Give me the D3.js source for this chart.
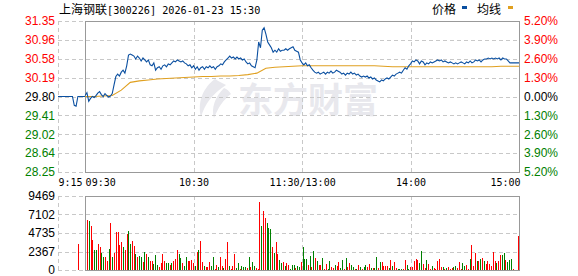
<!DOCTYPE html>
<html><head><meta charset="utf-8">
<script src="https://cdn.jsdelivr.net/npm/d3@7"></script>
<style>body{margin:0;background:#fff}svg{display:block}</style>
</head><body>
<svg id="c" width="578" height="276"></svg>
<script>
// ---------- data ----------
const titleName = "上海钢联";
const titleRest = "[300226] 2026-01-23 15:30";
const legendNames = ["价格", "均线"];
const preClose = 29.80;
const priceTicks = [31.35, 30.96, 30.58, 30.19, 29.80, 29.41, 29.02, 28.64, 28.25];
const pctTicks = ["5.20%", "3.90%", "2.60%", "1.30%", "0.00%", "1.30%", "2.60%", "3.90%", "5.20%"];
const volTicks = [9469, 7102, 4735, 2367, 0];
const volMax = 9469;
const timeLabels = ["9:15", "09:30", "10:30", "11:30/13:00", "14:00", "15:00"];
const timeLabelMinutes = [-15, 0, 60, 120, 180, 240];
// pre-market indicative price, minutes -15 (9:15) .. 0 (9:30)
const prePrices = [29.80,29.80,29.80,29.80,29.80,29.80,29.80,29.80,29.80,29.62,29.60,29.80,29.80,29.80,29.80,29.80];
const preVolume = 3327;
const preVolumeMinute = -4;
// trading minutes 0..240 (9:30 .. 11:30, 13:01 .. 15:00)
const prices = [
29.82,29.88,29.70,29.76,29.80,29.78,29.82,29.87,29.90,29.84,
29.80,29.86,29.82,29.79,29.81,29.86,30.04,30.21,30.26,30.22,
30.30,30.34,30.28,30.43,30.65,30.67,30.65,30.63,30.57,30.63,
30.59,30.53,30.59,30.55,30.51,30.55,30.45,30.43,30.49,30.34,
30.39,30.41,30.36,30.43,30.45,30.41,30.47,30.45,30.49,30.53,
30.51,30.55,30.53,30.51,30.53,30.49,30.47,30.43,30.45,30.39,
30.43,30.36,30.41,30.34,30.39,30.41,30.36,30.41,30.39,30.43,
30.39,30.41,30.36,30.41,30.43,30.47,30.45,30.51,30.55,30.59,
30.63,30.59,30.61,30.57,30.61,30.57,30.59,30.55,30.57,30.51,
30.47,30.49,30.43,30.41,30.39,30.55,30.92,30.80,31.16,31.21,
31.08,30.92,30.86,30.80,30.71,30.75,30.71,30.78,30.73,30.75,
30.75,30.78,30.75,30.78,30.80,30.82,30.75,30.73,30.71,30.55,
30.49,
30.45,30.49,30.43,30.45,30.39,30.34,30.30,30.28,30.30,30.26,
30.28,30.30,30.26,30.30,30.28,30.32,30.28,30.30,30.34,30.32,
30.30,30.26,30.28,30.24,30.28,30.26,30.30,30.26,30.28,30.24,
30.26,30.22,30.20,30.22,30.20,30.22,30.18,30.20,30.16,30.18,
30.14,30.12,30.10,30.14,30.12,30.16,30.18,30.16,30.20,30.24,
30.22,30.26,30.28,30.30,30.28,30.34,30.39,30.36,30.43,30.47,
30.53,30.51,30.55,30.53,30.47,30.53,30.51,30.45,30.49,30.47,
30.51,30.49,30.51,30.53,30.55,30.53,30.55,30.51,30.53,30.51,
30.49,30.51,30.49,30.47,30.49,30.47,30.49,30.51,30.49,30.47,
30.51,30.49,30.53,30.49,30.51,30.55,30.53,30.55,30.51,30.55,
30.57,30.57,30.59,30.57,30.59,30.57,30.59,30.57,30.59,30.55,
30.59,30.57,30.57,30.53,30.49,30.49,30.49,30.49,30.49,30.49];
const avgMinutes = [0,5,10,15,20,25,30,35,40,45,50,55,60,65,70,75,80,85,90,95,100,105,110,115,120,
  125,130,135,140,145,150,155,160,165,170,175,180,185,190,195,200,205,210,215,220,225,230,235,240];
const avgPrices = [29.80,29.80,29.81,29.82,29.93,30.09,30.12,30.14,30.16,30.17,30.18,30.19,30.20,30.21,30.21,30.22,30.22,30.23,30.25,30.28,30.38,30.40,30.41,30.42,30.43,
  30.43,30.43,30.43,30.43,30.43,30.43,30.43,30.43,30.42,30.41,30.41,30.41,30.41,30.41,30.41,30.41,30.41,30.41,30.41,30.41,30.41,30.42,30.42,30.42];
const volumes = [
6398,6270,5630,3839,2559,2559,3327,2900,2133,1621,
1621,1152,2687,6056,1621,2133,4862,4862,3199,3540,
2900,2559,4606,4990,3327,3711,3071,2047,1706,1791,
1621,1024,2260,2005,1706,1152,1152,768,1877,640,
384,
896,2047,1152,896,896,640,896,1152,1407,2559,
2005,1578,896,512,1663,1152,1152,1280,896,512,
2303,2559,
3711,1024,512,384,384,1024,512,1663,128,640,
384,1663,512,256,1407,3583,512,128,512,2047,
256,896,128,512,384,384,256,1663,384,1024,
512,256,128,8701,5672,7549,6653,6056,5374,5246,
2943,2175,3583,2047,1280,896,1024,512,896,640,
128,640,640,256,512,384,1024,2943,1407,1407,
640,1791,384,2431,1535,1152,640,640,1535,128,
768,128,1152,384,256,640,512,1024,256,1280,
128,1535,384,896,640,384,128,128,640,384,
128,384,640,384,768,256,256,256,1663,256,
1024,1024,512,512,512,256,1280,512,1024,256,
128,
128,128,85,1280,640,128,384,384,1152,1407,
1280,896,2431,768,256,1280,768,128,512,256,
128,1152,1407,384,384,128,256,384,128,256,
384,512,256,1024,128,896,512,640,128,1407,
3199,512,2175,1152,1152,1407,1535,1152,768,1152,
768,512,2303,1152,896,1152,1919,1919,2175,1280,
1024,1280,1407,128,40,40,4350];
// R = up minute, G = down minute
const volDir = [
"RGRRGGRRGG","RRGRGRRRRR","GRRGGRRGRG","GRGRGRRGGG","R","RRRGGRGRRR","GGRGGRRRRG","RG",
"RRGRRRGGRR","GRRGRRGRRR","GGRGGGRGRG","GRRRGRRGGG","RGRRGGRGRR","GGGRGGRGGG","RGRGRGRRGR",
"RGGRRGRRGG","RGRRGGRGRG","RGGRRGRGGR","GRRRRGRGRR","G",
"GGRRGGRRRR","RGGRRGRRGR","RRRRGRGRRR","GGRRRGGRRG","RRRGRGRGRR","RRRRGRRGGR","GGGRRGR"
].join("");

// ---------- drawing ----------
const RED = "#ff0000", GREEN = "#008000", BLACK = "#000";
const LINE = "#0a4fa0", AVG = "#e0a020", FRAME = "#999", GRID = "#c8c8c8";
const NUMFONT = "'Liberation Sans', Arial, sans-serif";
const MONO = "'DejaVu Sans Mono', monospace";
const CJK = "'Noto Sans CJK SC', sans-serif";

const svg = d3.select("#c");
const x = d3.scaleLinear().domain([-15, 240]).range([58, 519]);
const yP = d3.scaleLinear().domain([28.25, 31.35]).range([172, 21]);
const yV = d3.scaleLinear().domain([0, volMax]).range([270, 196]);
const bx = d3.scaleLinear().domain([0, volumes.length - 1]).range([87, 518]);
const px = v => Math.round(v) + 0.5;

// watermark
const wm = svg.append("g").attr("fill", "#e8e8ed");
wm.append("path").attr("d", "M215,79 C204,87 197,101 201,117 C205,104 212,94 226,85 C222,83 218,81 215,79 Z");
wm.append("path").attr("d", "M224,88 C215,97 211,108 214,118 C218,108 223,100 231,94 C229,91 227,89 224,88 Z");
wm.append("text").attr("x", 238).attr("y", 113).attr("font-family", CJK).attr("font-weight", "bold")
  .attr("font-size", 35).attr("textLength", 140).attr("lengthAdjust", "spacingAndGlyphs").text("东方财富");

// grids - price panel
const g = svg.append("g").attr("shape-rendering", "crispEdges");
g.selectAll(".hg").data(priceTicks).join("line")
  .attr("x1", x(-15)).attr("x2", x(240)).attr("y1", d => px(yP(d))).attr("y2", d => px(yP(d)))
  .attr("stroke", GRID).attr("stroke-dasharray", "4,3");
g.selectAll(".vg").data([-15, 60, 120, 180]).join("line")
  .attr("x1", d => px(x(d))).attr("x2", d => px(x(d))).attr("y1", yP(31.35)).attr("y2", yP(28.25))
  .attr("stroke", GRID).attr("stroke-dasharray", "4,3");
// grids - volume panel
g.selectAll(".vhg").data(volTicks).join("line")
  .attr("x1", x(-15)).attr("x2", x(240)).attr("y1", d => px(yV(d))).attr("y2", d => px(yV(d)))
  .attr("stroke", GRID).attr("stroke-dasharray", "4,3");
g.selectAll(".vvg").data([-15, 60, 120, 180]).join("line")
  .attr("x1", d => px(x(d))).attr("x2", d => px(x(d))).attr("y1", yV(volMax)).attr("y2", yV(0))
  .attr("stroke", GRID).attr("stroke-dasharray", "4,3");

// volume bars
const bars = svg.append("g").attr("shape-rendering", "crispEdges");
bars.selectAll("rect").data(volumes).join("rect")
  .attr("x", (d, i) => Math.round(bx(i))).attr("width", 1)
  .attr("y", d => yV(d)).attr("height", d => yV(0) - yV(d))
  .attr("fill", (d, i) => volDir[i] === "R" ? RED : GREEN);
bars.append("rect").attr("x", Math.round(x(preVolumeMinute))).attr("width", 1)
  .attr("y", yV(preVolume)).attr("height", yV(0) - yV(preVolume)).attr("fill", RED);

// frames
const fr = svg.append("g").attr("fill", "none").attr("stroke", FRAME).attr("shape-rendering", "crispEdges");
fr.append("rect").attr("x", px(x(0))).attr("y", px(yP(31.35))).attr("width", Math.round(x(240) - x(0))).attr("height", Math.round(yP(28.25) - yP(31.35)));
fr.append("rect").attr("x", px(x(0))).attr("y", px(yV(volMax))).attr("width", Math.round(x(240) - x(0))).attr("height", Math.round(yV(0) - yV(volMax)));

// lines
const lineP = d3.line().x(d => x(d[0])).y(d => yP(d[1]));
svg.append("path").datum(avgMinutes.map((m, i) => [m, avgPrices[i]]))
  .attr("d", lineP).attr("fill", "none").attr("stroke", AVG).attr("stroke-width", 1.1);
svg.append("path").datum(prePrices.map((p, i) => [i - 15, p]))
  .attr("d", lineP).attr("fill", "none").attr("stroke", LINE).attr("stroke-width", 1.1);
svg.append("path").datum(prices.map((p, i) => [i, p]))
  .attr("d", lineP).attr("fill", "none").attr("stroke", LINE).attr("stroke-width", 1.1);

// axes
const colorFor = v => v > preClose + 1e-9 ? RED : (v < preClose - 1e-9 ? GREEN : BLACK);
const axL = svg.append("g").attr("transform", "translate(58,0)")
  .call(d3.axisLeft(yP).tickValues(priceTicks).tickSize(0).tickPadding(3).tickFormat(d3.format(".2f")));
axL.select(".domain").remove();
axL.selectAll("text").attr("font-family", NUMFONT).attr("font-size", 12).attr("fill", d => colorFor(d));

const axR = svg.append("g").attr("transform", "translate(519,0)")
  .call(d3.axisRight(yP).tickValues(priceTicks).tickSize(0).tickPadding(5).tickFormat((d, i) => pctTicks[i]));
axR.select(".domain").remove();
axR.selectAll("text").attr("font-family", NUMFONT).attr("font-size", 12).attr("fill", d => colorFor(d));

const axV = svg.append("g").attr("transform", "translate(58,0)")
  .call(d3.axisLeft(yV).tickValues(volTicks).tickSize(0).tickPadding(3).tickFormat(d3.format("d")));
axV.select(".domain").remove();
axV.selectAll("text").attr("font-family", NUMFONT).attr("font-size", 12).attr("fill", BLACK);

const axT = svg.append("g").attr("transform", "translate(0,172)")
  .call(d3.axisBottom(x).tickValues(timeLabelMinutes).tickSize(0).tickPadding(7).tickFormat((d, i) => timeLabels[i]));
axT.select(".domain").remove();
axT.selectAll("text").attr("font-family", MONO).attr("font-size", 10).attr("fill", BLACK)
  .attr("text-anchor", (d, i) => i < 2 ? "start" : (i === timeLabels.length - 1 ? "end" : "middle"))
  .attr("dx", (d, i) => i === timeLabels.length - 1 ? 1 : 0);

// title
const t = svg.append("text").attr("x", 59).attr("y", 13.5).attr("fill", BLACK);
t.append("tspan").attr("font-family", CJK).attr("font-size", 12).text(titleName);
t.append("tspan").attr("font-family", MONO).attr("font-size", 10.2).text(titleRest);

// legend
const lg = svg.append("g");
lg.append("text").attr("x", 432).attr("y", 14).attr("font-family", CJK).attr("font-size", 12).text(legendNames[0]);
lg.append("rect").attr("x", 462).attr("y", 6).attr("width", 5).attr("height", 3).attr("fill", LINE);
lg.append("text").attr("x", 477).attr("y", 14).attr("font-family", CJK).attr("font-size", 12).text(legendNames[1]);
lg.append("rect").attr("x", 508).attr("y", 6).attr("width", 5).attr("height", 3).attr("fill", AVG);
</script>
</body></html>
